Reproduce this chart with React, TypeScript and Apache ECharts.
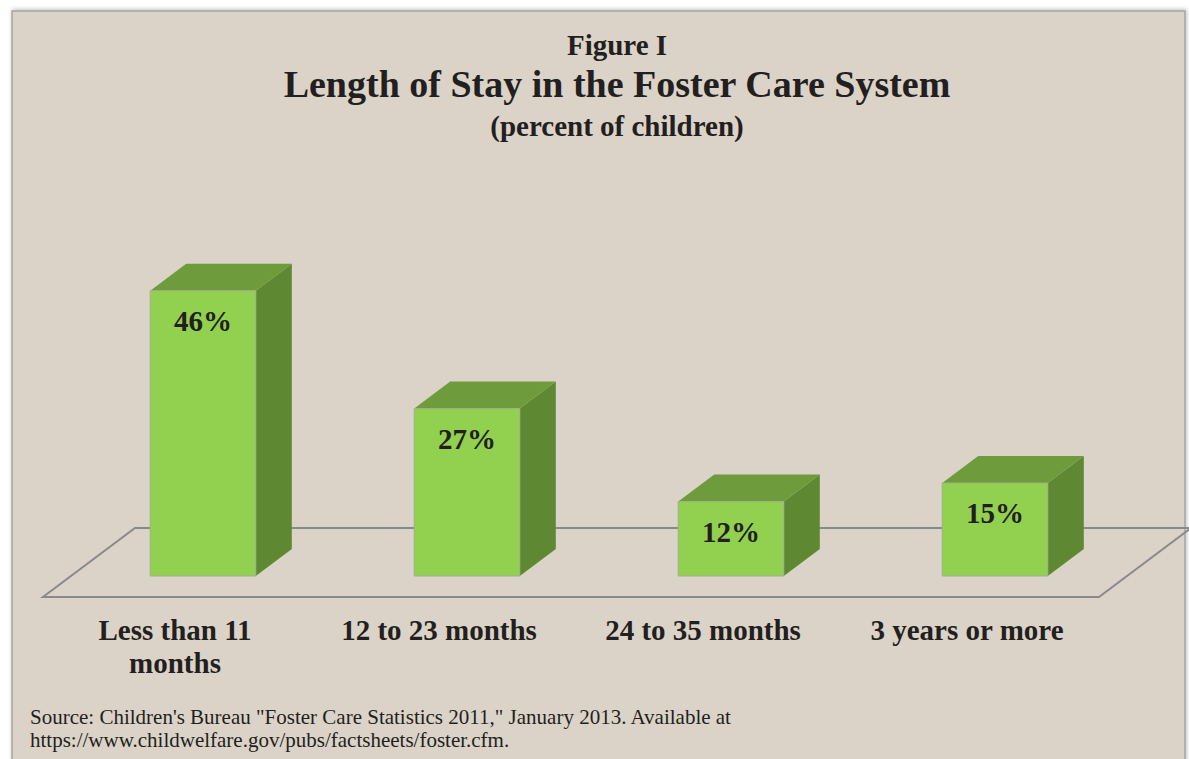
import React, { useEffect, useRef } from "react";
import * as echarts from "echarts";

const categories = ["Less than 11\nmonths", "12 to 23 months", "24 to 35 months", "3 years or more"];
const values = [46, 27, 12, 15];
const titleLines = ["Figure I", "Length of Stay in the Foster Care System", "(percent of children)"];
const sourceLines = [
  "Source: Children's Bureau \"Foster Care Statistics 2011,\" January 2013. Available at",
  "https://www.childwelfare.gov/pubs/factsheets/foster.cfm.",
];

const FRONT = "#92d050";
const SIDE = "#5e8832";
const TOP = "#6e9c3c";
const DX = 36;
const DY = 27;
const BAR_RATIO = 0.4;
const SERIF = "'Liberation Serif', 'Times New Roman', serif";
const INK = "#231f20";

export default function App() {
  const ref = useRef<HTMLDivElement>(null);
  useEffect(() => {
    if (!ref.current) return;
    const chart = echarts.init(ref.current, null, { renderer: "svg" });
    const option: any = {
      animation: false,
      backgroundColor: "#ffffff",
      grid: { left: 71, right: 62, top: 266, bottom: 183 },
      xAxis: {
        type: "category",
        data: categories,
        axisLine: { show: false },
        axisTick: { show: false },
        axisLabel: {
          interval: 0,
          margin: 37,
          fontFamily: SERIF,
          fontWeight: "bold",
          fontSize: 29,
          lineHeight: 33,
          color: INK,
          padding: [0, 56, 0, 0],
        },
      },
      yAxis: { type: "value", min: 0, max: 50, show: false, splitLine: { show: false } },
      graphic: [
        {
          type: "rect",
          z: -10,
          shape: { x: 12, y: 11, width: 1173, height: 770 },
          style: {
            fill: "#dbd3c7",
            stroke: "#a4a4a4",
            lineWidth: 1.5,
            shadowColor: "rgba(0,0,0,0.25)",
            shadowBlur: 4,
            shadowOffsetX: 1,
            shadowOffsetY: -1,
          },
        },
        {
          type: "text",
          x: 617,
          y: 45,
          style: { text: titleLines[0], font: `bold 29px ${SERIF}`, fill: INK, align: "center", verticalAlign: "middle" },
        },
        {
          type: "text",
          x: 617,
          y: 84,
          style: { text: titleLines[1], font: `bold 38px ${SERIF}`, fill: INK, align: "center", verticalAlign: "middle" },
        },
        {
          type: "text",
          x: 617,
          y: 126,
          style: { text: titleLines[2], font: `bold 29px ${SERIF}`, fill: INK, align: "center", verticalAlign: "middle" },
        },
        {
          type: "text",
          x: 30,
          y: 717,
          style: { text: sourceLines[0], font: `21px ${SERIF}`, fill: INK, align: "left", verticalAlign: "middle" },
        },
        {
          type: "text",
          x: 30,
          y: 740,
          style: { text: sourceLines[1], font: `21px ${SERIF}`, fill: INK, align: "left", verticalAlign: "middle" },
        },
      ],
      series: [
        {
          type: "custom",
          z: 1,
          data: [[0, 0]],
          silent: true,
          renderItem: (params: any, api: any) => {
            const cs = params.coordSys;
            const y0 = cs.y + cs.height;
            const l = cs.x;
            const r = cs.x + cs.width;
            return {
              type: "polygon",
              shape: {
                points: [
                  [l - 28, y0 + 21],
                  [r - 28, y0 + 21],
                  [r + 64, y0 - 48],
                  [l + 64, y0 - 48],
                ],
              },
              style: { fill: "none", stroke: "#8a8a8a", lineWidth: 2 },
            };
          },
        },
        {
          type: "custom",
          z: 2,
          data: values.map((v, i) => [i, v]),
          encode: { x: 0, y: 1 },
          renderItem: (params: any, api: any) => {
            const idx = api.value(0);
            const v = api.value(1);
            const top = api.coord([idx, v]);
            const base = api.coord([idx, 0]);
            const w = api.size([1, 0])[0] * BAR_RATIO;
            const x0 = top[0] - w / 2;
            const x1 = top[0] + w / 2;
            const yT = top[1];
            const yB = base[1];
            return {
              type: "group",
              children: [
                {
                  type: "polygon",
                  shape: { points: [[x1, yT], [x1 + DX, yT - DY], [x1 + DX, yB - DY], [x1, yB]] },
                  style: { fill: SIDE },
                },
                {
                  type: "polygon",
                  shape: { points: [[x0, yT], [x0 + DX, yT - DY], [x1 + DX, yT - DY], [x1, yT]] },
                  style: { fill: TOP },
                },
                {
                  type: "rect",
                  shape: { x: x0, y: yT, width: w, height: yB - yT },
                  style: { fill: FRONT, stroke: "#a3ad8f", lineWidth: 1 },
                },
                {
                  type: "text",
                  x: top[0],
                  y: yT + 30,
                  style: {
                    text: v + "%",
                    font: `bold 29px ${SERIF}`,
                    fill: INK,
                    align: "center",
                    verticalAlign: "middle",
                  },
                },
              ],
            };
          },
        },
      ],
    };
    chart.setOption(option);
    return () => chart.dispose();
  }, []);
  return <div ref={ref} style={{ position: "fixed", left: 0, top: 0, width: 1189, height: 759 }} />;
}
